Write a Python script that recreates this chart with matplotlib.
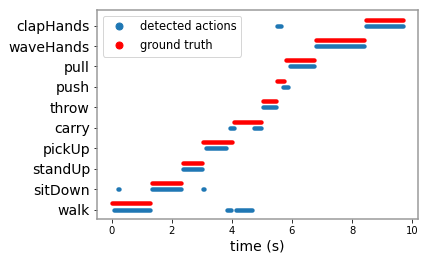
import matplotlib
matplotlib.use("Agg")
import matplotlib.pyplot as plt
from matplotlib.lines import Line2D

actions = ["walk", "sitDown", "standUp", "pickUp", "carry", "throw",
           "push", "pull", "waveHands", "clapHands"]

# detected action segments: (action, start s, end s)
det_action = ["walk", "walk", "walk", "sitDown", "sitDown", "sitDown",
              "standUp", "pickUp", "carry", "carry", "throw", "push",
              "pull", "pull", "waveHands", "clapHands", "clapHands"]
det_start = [0.09, 3.85, 4.14, 0.22, 1.33, 3.05, 2.36, 3.13, 3.93, 4.73,
             5.04, 5.71, 0.00, 5.92, 6.79, 5.51, 8.45]
det_end = [1.29, 3.97, 4.67, 0.24, 2.31, 3.07, 3.00, 3.80, 4.06, 4.97,
           5.46, 5.87, 0.01, 6.74, 8.40, 5.64, 9.71]

# ground truth segments
gt_action = ["walk", "sitDown", "standUp", "pickUp", "carry", "throw",
             "push", "pull", "waveHands", "clapHands"]
gt_start = [0.03, 1.33, 2.36, 3.05, 4.07, 5.04, 5.51, 5.79, 6.79, 8.45]
gt_end = [1.27, 2.31, 3.00, 4.02, 4.97, 5.46, 5.74, 6.72, 8.40, 9.71]
gt_offset = 0.3

blue = "#1f77b4"
red = "red"

fig = plt.figure(figsize=(428 / 72, 260 / 72), dpi=72)
ax = fig.add_axes([97 / 428, 1 - 219 / 260, (418 - 97) / 428, (219 - 10) / 260])

idx = {a: i for i, a in enumerate(actions)}
y_det = [idx[a] for a in det_action]
y_gt = [idx[a] + gt_offset for a in gt_action]

ax.hlines(y_det, det_start, det_end, colors=blue, linewidth=4.5, capstyle="round")
ax.hlines(y_gt, gt_start, gt_end, colors=red, linewidth=4.5, capstyle="round")

ax.set_yticks(range(len(actions)))
ax.set_yticklabels(actions, fontsize=14)
ax.set_xticks([0, 2, 4, 6, 8, 10])
ax.tick_params(axis="x", labelsize=10)
ax.set_xlabel("time (s)", fontsize=14)
ax.margins(x=0.05, y=0.05)
for sp in ax.spines.values():
    sp.set_color("#999999")
    sp.set_linewidth(1.5)

handles = [Line2D([], [], marker="o", linestyle="none", color=blue, markersize=7),
           Line2D([], [], marker="o", linestyle="none", color=red, markersize=7)]
ax.legend(handles, ["detected actions", "ground truth"], loc="upper left",
          fontsize=11.5)

fig.savefig("out.png", dpi=72)
